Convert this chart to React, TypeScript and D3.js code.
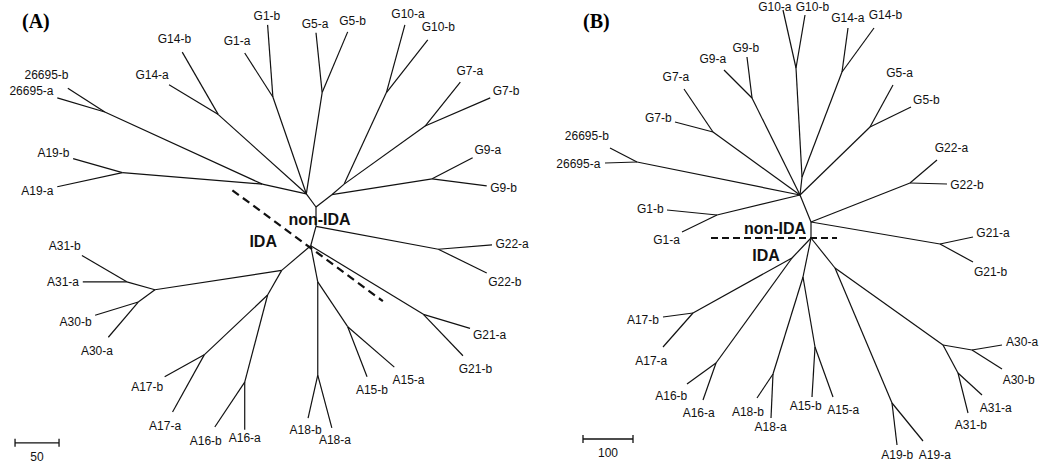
import React from 'react';
import * as d3 from 'd3';

// node = [id, parent, x, y]  (x/y in branch-length units, origin at the central hub)
type TNode = [string, string, number, number];

const innerA: TNode[] = [
  ['M', '', 0, 0], ['U', 'M', -11, 15], ['g1', 'U', -49, 125], ['g5', 'U', 7, 130],
  ['g14', 'U', -111, 105], ['s', 'U', -61, 26], ['n26', 's', -240, 108], ['a19', 's', -220, 39],
  ['r1', 'M', 18, 14], ['r2', 'r1', 32, 26], ['g10', 'r2', 80, 130], ['g7', 'r2', 124, 92],
  ['g9', 'r1', 132, 32], ['d1', 'M', 0, -22], ['g22', 'd1', 139, -48], ['d2', 'd1', -6, -44],
  ['g21', 'd2', 122, -122], ['al', 'd2', -39, -72], ['a3031', 'al', -183, -94],
  ['a31', 'a3031', -215, -85], ['a30', 'a3031', -202, -108], ['a1716', 'al', -55, -100],
  ['a17', 'a1716', -127, -168], ['a16', 'a1716', -81, -199], ['ar', 'd2', 2, -85],
  ['a18', 'ar', 2, -191], ['a15', 'ar', 36, -136],
];

const leavesA: TNode[] = [
  ['G1-b', 'g1', -55, 207], ['G1-a', 'g1', -81, 175], ['G5-a', 'g5', 0, 198], ['G5-b', 'g5', 36, 199],
  ['G14-b', 'g14', -152, 176], ['G14-a', 'g14', -167, 139], ['26695-b', 'n26', -282, 135],
  ['26695-a', 'n26', -294, 124], ['A19-b', 'a19', -276, 55], ['A19-a', 'a19', -294, 23],
  ['G10-a', 'g10', 101, 207], ['G10-b', 'g10', 127, 190], ['G7-a', 'g7', 164, 142],
  ['G7-b', 'g7', 198, 124], ['G9-a', 'g9', 178, 56], ['G9-b', 'g9', 194, 24],
  ['G22-a', 'g22', 200, -43], ['G22-b', 'g22', 194, -75], ['G21-a', 'g21', 175, -138],
  ['G21-b', 'g21', 167, -169], ['A15-a', 'a15', 89, -182], ['A15-b', 'a15', 58, -193],
  ['A18-b', 'a18', -9, -240], ['A18-a', 'a18', 18, -251], ['A16-a', 'a16', -81, -253],
  ['A16-b', 'a16', -115, -250], ['A17-a', 'a17', -163, -233], ['A17-b', 'a17', -172, -193],
  ['A30-a', 'a30', -236, -148], ['A30-b', 'a30', -251, -123], ['A31-a', 'a31', -265, -85],
  ['A31-b', 'a31', -266, -55],
];

const innerB: TNode[] = [
  ['LB', '', 0, 0], ['RB', 'LB', 0, 32], ['UB', 'RB', -22, 86], ['ga', 'UB', -18, 122],
  ['g10', 'ga', -30, 340], ['g14', 'ga', 62, 332], ['g9', 'UB', -118, 280], ['g7', 'UB', -196, 212],
  ['n26', 'UB', -348, 152], ['g1', 'UB', -188, 46], ['g5', 'UB', 118, 222], ['g22', 'RB', 198, 110],
  ['g21', 'RB', 258, -12], ['al', 'LB', -38, -40], ['a17', 'al', -236, -150], ['a16', 'al', -190, -250],
  ['am', 'LB', -16, -78], ['a18', 'am', -76, -272], ['a15', 'am', 8, -218], ['ar', 'LB', 48, -60],
  ['a19', 'ar', 162, -330], ['a3031', 'ar', 264, -214], ['a30', 'a3031', 322, -224],
  ['a31', 'a3031', 294, -270],
];

const leavesB: TNode[] = [
  ['G10-a', 'g10', -56, 456], ['G10-b', 'g10', -12, 446], ['G14-a', 'g14', 74, 420],
  ['G14-b', 'g14', 126, 420], ['G9-b', 'g9', -128, 362], ['G9-a', 'g9', -174, 336],
  ['G7-a', 'g7', -254, 298], ['G7-b', 'g7', -272, 232], ['26695-b', 'n26', -402, 180],
  ['26695-a', 'n26', -412, 150], ['G1-b', 'g1', -288, 56], ['G1-a', 'g1', -258, 12],
  ['G5-a', 'g5', 164, 306], ['G5-b', 'g5', 200, 262], ['G22-a', 'g22', 252, 156],
  ['G22-b', 'g22', 272, 108], ['G21-a', 'g21', 324, 2], ['G21-b', 'g21', 324, -48],
  ['A17-b', 'a17', -296, -158], ['A17-a', 'a17', -296, -218], ['A16-b', 'a16', -248, -292],
  ['A16-a', 'a16', -216, -324], ['A18-b', 'a18', -108, -320], ['A18-a', 'a18', -80, -360],
  ['A15-b', 'a15', 2, -318], ['A15-a', 'a15', 44, -318], ['A19-b', 'a19', 172, -414],
  ['A19-a', 'a19', 224, -406], ['A30-a', 'a30', 382, -214], ['A30-b', 'a30', 382, -262],
  ['A31-a', 'a31', 342, -314], ['A31-b', 'a31', 314, -350],
];

// dashed separator and group labels, in tree units
const splitA = [[-95, 19], [76, -107]];
const splitB = [[-200, 0], [52, 0]];
const groupA = [['non-IDA', 4, -14], ['IDA', -60, -39]];
const groupB = [['non-IDA', -72, 20], ['IDA', -90, -34]];

const SANS = '"Liberation Sans", Arial, sans-serif';
const LEAF_FS = 12;

function Panel({ inner, leaves, cx, cy, k, split, groups, letter, letterX, bar, dash }) {
  const x = d3.scaleLinear().domain([0, 100]).range([cx, cx + 100 * k]);
  const y = d3.scaleLinear().domain([0, 100]).range([cy, cy - 100 * k]);
  const all = new Map<string, TNode>();
  [...inner, ...leaves].forEach(n => all.set(n[0], n));
  const line = d3.line<number[]>().x(d => x(d[0])).y(d => y(d[1]));

  const edges = [...inner, ...leaves].filter(n => n[1] !== '');

  // label sits on the extension of its branch
  const labels = leaves.map((n: TNode) => {
    const p = all.get(n[1])!;
    const px = x(n[2]), py = y(n[3]);
    const dx = px - x(p[2]), dy = py - y(p[3]);
    const len = Math.hypot(dx, dy) || 1;
    const ux = dx / len, uy = dy / len;
    const w = n[0].length * LEAF_FS * 0.56, h = LEAF_FS * 0.8;
    const t = (w / 2) * Math.abs(ux) + (h / 2) * Math.abs(uy) + 3;
    return { n, w, h, lx: px + ux * t, ly: Math.max(7, py + uy * t) };
  });
  // push sibling labels apart when they collide
  labels.forEach((a, i) => labels.forEach((b, j) => {
    if (j <= i || a.n[1] !== b.n[1]) return;
    const need = (a.w + b.w) / 2 + 4 - Math.abs(a.lx - b.lx);
    if (need > 0 && Math.abs(a.ly - b.ly) < (a.h + b.h) / 2) {
      const s = a.lx <= b.lx ? 1 : -1;
      a.lx -= s * need / 2;
      b.lx += s * need / 2;
    }
  }));

  const [b0, b1, by] = bar;
  return (
    <g>
      <text x={letterX} y={28} fontFamily='"Liberation Serif", "Times New Roman", serif'
        fontWeight="bold" fontSize={20}>{letter}</text>
      {edges.map(n => {
        const p = all.get(n[1])!;
        return <path key={n[0]} d={line([[p[2], p[3]], [n[2], n[3]]])!}
          stroke="#111" strokeWidth={1.2} fill="none" />;
      })}
      {labels.map(l => (
        <text key={'t' + l.n[0]} x={l.lx} y={l.ly} dy="0.36em" textAnchor="middle"
          fontFamily={SANS} fontSize={LEAF_FS} fill="#111">{l.n[0]}</text>
      ))}
      <path d={line(split)!} stroke="#111" strokeWidth={2.2} strokeDasharray={dash} fill="none" />
      {groups.map(g => (
        <text key={g[0]} x={x(g[1])} y={y(g[2])} dy="0.36em" textAnchor="middle"
          fontFamily={SANS} fontWeight="bold" fontSize={16} fill="#111">{g[0]}</text>
      ))}
      <g stroke="#111" strokeWidth={1.3}>
        <line x1={x(b0)} x2={x(b1)} y1={y(by)} y2={y(by)} />
        <line x1={x(b0)} x2={x(b0)} y1={y(by) - 4} y2={y(by) + 4} />
        <line x1={x(b1)} x2={x(b1)} y1={y(by) - 4} y2={y(by) + 4} />
      </g>
      <text x={(x(b0) + x(b1)) / 2} y={y(by) + 18} textAnchor="middle" fontFamily={SANS}
        fontSize={12} fill="#111">{b1 - b0}</text>
    </g>
  );
}

export default function App() {
  return (
    <svg width={1047} height={468} style={{ position: 'absolute', left: 0, top: 0, background: '#fff' }}>
      <Panel inner={innerA} leaves={leavesA} cx={316} cy={207} k={0.88} split={splitA}
        groups={groupA} letter="(A)" letterX={22} bar={[-342, -292, -268]} dash="8,5" />
      <Panel inner={innerB} leaves={leavesB} cx={811} cy={238} k={0.5} split={splitB}
        groups={groupB} letter="(B)" letterX={583} bar={[-456, -356, -402]} dash="7,4" />
    </svg>
  );
}
